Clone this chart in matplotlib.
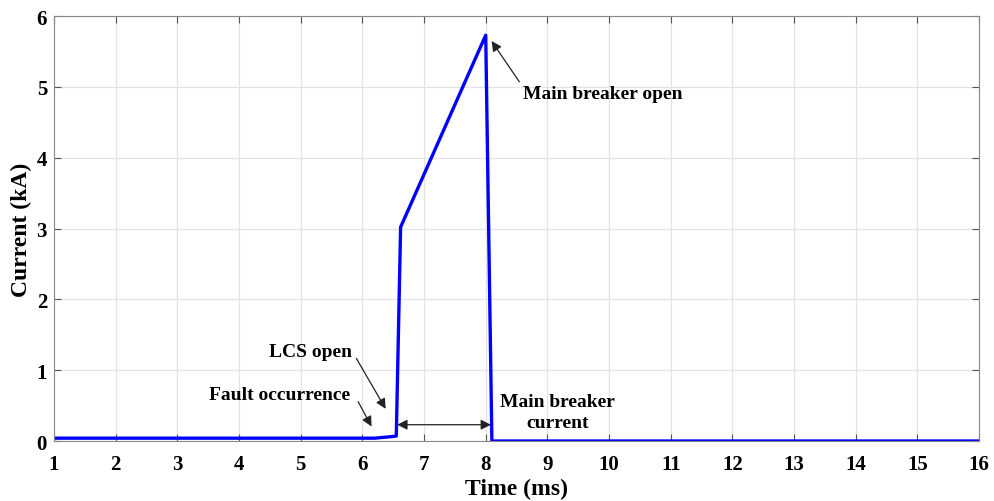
import numpy as np
import matplotlib.pyplot as plt

plt.rcParams['font.family'] = ['Liberation Serif', 'DejaVu Serif']
plt.rcParams['font.weight'] = 'bold'

# breaker current (kA) vs time (ms)
time_ms = [1.0, 6.2, 6.45, 6.55, 6.62, 8.0, 8.1, 16.0]
current_ka = [0.04, 0.04, 0.06, 0.07, 3.02, 5.73, 0.0, 0.0]

fig = plt.figure(figsize=(9.95, 5.02), dpi=100)
ax = fig.add_axes([0.0543, 0.1195, 0.9297, 0.8465])

ax.plot(time_ms, current_ka, color='#0000ff', lw=2.4)

ax.set_xlim(1, 16)
ax.set_ylim(0, 6)
ax.set_xticks(range(1, 17))
ax.set_yticks(range(0, 7))
ax.grid(True, color='#e3e3e3', lw=0.9)
ax.tick_params(direction='in', top=True, right=True, labelsize=15, length=5,
               color='#555555')
ax.tick_params(axis='x', pad=9)
ax.tick_params(axis='y', pad=5)
for s in ax.spines.values():
    s.set_color('#888888')
ax.set_xlabel('Time (ms)', fontsize=17, fontweight='bold', labelpad=3)
ax.set_ylabel('Current (kA)', fontsize=17, fontweight='bold', labelpad=3)

arr = dict(arrowstyle='-|>', color='#222222', lw=0.9, mutation_scale=15)

ax.annotate('', xy=(8.07, 5.68), xytext=(8.57, 5.04), arrowprops=arr)
ax.text(8.6, 4.90, 'Main breaker open', fontsize=14, fontweight='bold',
        ha='left', va='center')

ax.annotate('', xy=(6.40, 0.42), xytext=(5.88, 1.20), arrowprops=arr)
ax.text(5.83, 1.26, 'LCS open', fontsize=14, fontweight='bold',
        ha='right', va='center')

ax.annotate('', xy=(6.17, 0.17), xytext=(5.91, 0.59), arrowprops=arr)
ax.text(5.80, 0.66, 'Fault occurrence', fontsize=14, fontweight='bold',
        ha='right', va='center')

ax.annotate('', xy=(6.52, 0.23), xytext=(8.13, 0.23),
            arrowprops=dict(arrowstyle='<|-|>', color='#222222', lw=0.9,
                            mutation_scale=15))
ax.text(9.17, 0.41, 'Main breaker\ncurrent', fontsize=14, fontweight='bold',
        ha='center', va='center', linespacing=1.25)

fig.savefig('out.png', dpi=100)
